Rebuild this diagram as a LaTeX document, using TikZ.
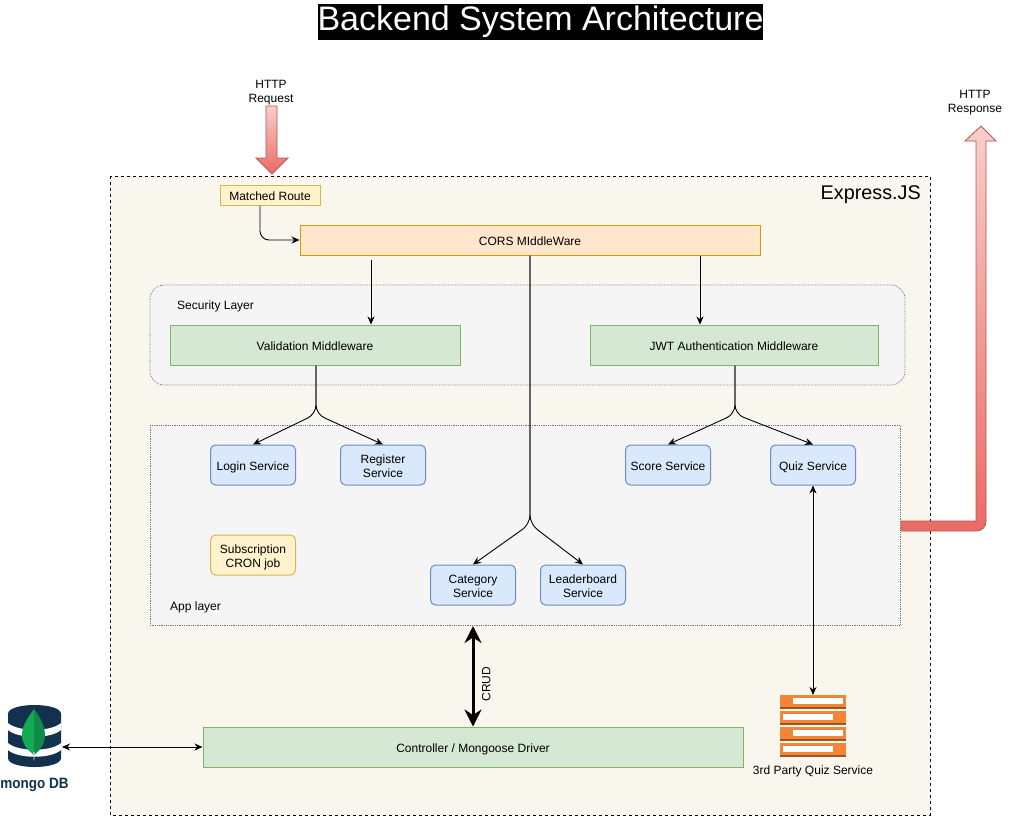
\documentclass[tikz,border=0pt]{standalone}
\usepackage{fontspec}
\setmainfont{Liberation Sans}
\newfontfamily\mongofont[FakeStretch=0.9]{Liberation Sans}
\usetikzlibrary{arrows.meta}
\definecolor{expressfill}{HTML}{F9F7ED}
\definecolor{layerfill}{HTML}{F5F5F5}
\definecolor{greenfill}{HTML}{D5E8D4}
\definecolor{greenline}{HTML}{82B366}
\definecolor{bluefill}{HTML}{DAE8FC}
\definecolor{blueline}{HTML}{6C8EBF}
\definecolor{yellowfill}{HTML}{FFF2CC}
\definecolor{yellowline}{HTML}{D6B656}
\definecolor{orangefill}{HTML}{FFE6CC}
\definecolor{orangeline}{HTML}{D79B00}
\definecolor{redlight}{HTML}{F8CECC}
\definecolor{redfill}{HTML}{EA6B66}
\definecolor{redline}{HTML}{B85450}
\definecolor{mongonavy}{HTML}{12314F}
\definecolor{leaflight}{HTML}{13AA52}
\definecolor{leafdark}{HTML}{0F8A4A}
\definecolor{serverfill}{HTML}{F58534}
\definecolor{serverdark}{HTML}{9C5420}
\newcommand{\topstrut}[1]{\rule{0pt}{#1pt}}
\tikzset{
  lbl/.style={inner sep=0pt, align=center, font=\fontsize{12}{14}\selectfont,
    execute at begin node={\rule{0pt}{13pt}}, execute at end node={\rule[-2.4pt]{0pt}{0pt}}},
  twolbl/.style={execute at begin node={}, execute at end node={}},
  greenbox/.style={lbl, draw=greenline, fill=greenfill, line width=1pt, minimum height=40pt},
  servicebox/.style={lbl, draw=blueline, fill=bluefill, line width=1pt, rounded corners=5pt, minimum width=85pt, minimum height=40pt},
  layerbox/.style={draw=black!55, fill=layerfill, line width=0.8pt, densely dotted},
  arr/.style={-{Stealth[length=8pt,width=7pt]}, line width=0.9pt},
  dblarr/.style={{Stealth[length=8pt,width=7pt]}-{Stealth[length=8pt,width=7pt]}, line width=0.9pt},
  forkarr/.style={arr, rounded corners=9pt},
  bigarrow/.style={draw=redline, top color=redlight, bottom color=redfill, line width=0.8pt, line join=miter},
}
\begin{document}
\begin{tikzpicture}[x=1pt, y=-1pt]
\useasboundingbox (0,0) rectangle (1011,816);

\node[fill=black, text=white, inner xsep=0pt, inner ysep=0pt, minimum height=36pt, font=\fontsize{34}{38}\selectfont] (title) at (540.5,22) {Backend System Architecture};

\draw[black, dashed, line width=0.8pt, fill=expressfill] (110,176) rectangle (930,815);
\node[inner sep=0pt, font=\fontsize{19.8}{22}\selectfont, anchor=east] (express) at (921,195) {Express.JS};

\draw[layerbox, rounded corners=14pt] (150,285) rectangle (905,385);
\node[lbl, anchor=west] (securitylabel) at (177,304) {Security Layer};
\draw[layerbox] (150,425) rectangle (900,625);
\node[lbl, anchor=west] (applabel) at (170,605) {App layer};

\node[lbl, twolbl] (requestlabel) at (271,90) {\topstrut{13}HTTP\\Request};
\node[lbl, twolbl] (responselabel) at (975,100) {\topstrut{13}HTTP\\Response};

\draw[bigarrow] (266,106) -- (277,106) -- (277,158) -- (288,158) -- (272,174) -- (256,158) -- (266,158) -- cycle;
\draw[bigarrow] (901,521) -- (976,521) -- (976,141) -- (965,141) -- (981,126) -- (996,141) -- (986,141) -- (986,521)
  .. controls (986,527) and (982,531) .. (976,531) -- (901,531) -- cycle;

\node[lbl, draw=yellowline, fill=yellowfill, line width=1pt, minimum width=100pt, minimum height=20pt] (routebox) at (270,195) {Matched Route};
\node[lbl, draw=orangeline, fill=orangefill, line width=1pt, minimum width=460pt, minimum height=30pt] (corsbox) at (530,240) {CORS MIddleWare};
\node[greenbox, minimum width=290pt] (validbox) at (315,345) {Validation Middleware};
\node[greenbox, minimum width=288pt] (jwtbox) at (734,345) {JWT Authentication Middleware};

\node[servicebox] (loginbox) at (253,465) {Login Service};
\node[servicebox, twolbl] (registerbox) at (383,465) {\topstrut{12.6}Register\\Service};
\node[servicebox] (scorebox) at (668,465) {Score Service};
\node[servicebox] (quizbox) at (813,465) {Quiz Service};
\node[servicebox, twolbl, draw=yellowline, fill=yellowfill] (cronbox) at (253,555) {\topstrut{13}Subscription\\CRON job};
\node[servicebox, twolbl] (categorybox) at (473,585) {\topstrut{12.6}Category\\Service};
\node[servicebox, twolbl] (leaderbox) at (583,585) {\topstrut{12.6}Leaderboard\\Service};
\node[greenbox, twolbl, minimum width=540pt] (driverbox) at (473,747) {Controller / Mongoose Driver};

% mongo icon
\fill[mongonavy] (8,714) .. controls (8,702) and (61,702) .. (61,714) -- (61,758)
  .. controls (61,770) and (8,770) .. (8,758) -- cycle;
\fill[white] (8,723) .. controls (18,732) and (51,732) .. (61,723) -- (61,730) .. controls (51,739) and (18,739) .. (8,730) -- cycle;
\fill[white] (8,743) .. controls (18,752) and (51,752) .. (61,743) -- (61,750) .. controls (51,759) and (18,759) .. (8,750) -- cycle;
\fill[leaflight] (34,709) .. controls (26,720) and (22,727) .. (22,735) .. controls (22,745) and (29,751) .. (34,755) -- cycle;
\fill[leafdark] (34,709) .. controls (42,720) and (45,727) .. (45,735) .. controls (45,745) and (39,751) .. (34,755) -- cycle;
\fill[black!15] (33.4,752) -- (34.6,752) -- (34.2,761) -- (33.8,761) -- cycle;
\coordinate (mongoport) at (62,747);
\node[inner sep=0pt, text=mongonavy, font=\mongofont\fontsize{15}{18}\bfseries\selectfont] (mongolabel) at (34.5,785) {mongo DB};

% server icon
\foreach \ty/\sx in {695/793, 711/783, 727/793, 743/783} {
  \fill[serverfill] (780,\ty) rectangle (846,\ty+14);
  \fill[serverdark] (780,\ty+12) rectangle (846,\ty+14);
  \fill[white] (\sx,\ty+3) rectangle (\sx+50,\ty+9);
}
\coordinate (serverport) at (813,695);
\node[lbl] (serverlabel) at (813,769) {3rd Party Quiz Service};

\coordinate (valfork) at (316,414);
\coordinate (jwtfork) at (735,414);
\coordinate (corsfork) at (530,524);
\coordinate (corsleft) at (371,260);

\draw[forkarr] ([xshift=-10pt]routebox.south) |- (corsbox.west);
\draw[arr] (corsleft) -- (corsleft |- validbox.north);
\draw[arr] ([xshift=170pt]corsbox.south) -- ([xshift=-34pt]jwtbox.north);
\draw[forkarr] (validbox.south -| valfork) -- (valfork) -- (loginbox.north);
\draw[forkarr] (validbox.south -| valfork) -- (valfork) -- (registerbox.north);
\draw[forkarr] (jwtbox.south -| jwtfork) -- (jwtfork) -- (scorebox.north);
\draw[forkarr] (jwtbox.south -| jwtfork) -- (jwtfork) -- (quizbox.north);
\draw[forkarr] (corsbox.south) -- (corsfork) -- (categorybox.north);
\draw[forkarr] (corsbox.south) -- (corsfork) -- (leaderbox.north);
\draw[dblarr] (quizbox.south) -- (serverport);
\draw[dblarr] (mongoport) -- (driverbox.west);

\coordinate (crudtop) at (473,626);
\draw[{Stealth[length=17pt,width=17pt]}-{Stealth[length=17pt,width=17pt]}, line width=3pt] (crudtop) -- (crudtop |- driverbox.north);
\node[lbl, rotate=90] (crudlabel) at (485,684) {CRUD};
\end{tikzpicture}
\end{document}
